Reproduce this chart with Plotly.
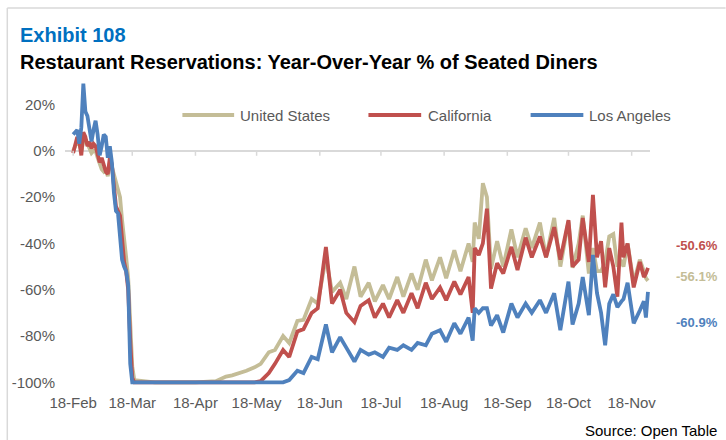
import plotly.graph_objects as go

# dates of the readings (2020)
dates = [
    "2020-02-18", "2020-02-19", "2020-02-20", "2020-02-21", "2020-02-22", "2020-02-23",
    "2020-02-24", "2020-02-25", "2020-02-26", "2020-02-27", "2020-02-28", "2020-02-29",
    "2020-03-01", "2020-03-02", "2020-03-03", "2020-03-04", "2020-03-05", "2020-03-06",
    "2020-03-07", "2020-03-08", "2020-03-09", "2020-03-10", "2020-03-11", "2020-03-12",
    "2020-03-13", "2020-03-14", "2020-03-15", "2020-03-16", "2020-03-17", "2020-03-18",
    "2020-03-19",
    "2020-03-29", "2020-04-08", "2020-04-18", "2020-04-28",
    "2020-05-03", "2020-05-06", "2020-05-10", "2020-05-13", "2020-05-17", "2020-05-20",
    "2020-05-24", "2020-05-27", "2020-05-31", "2020-06-03", "2020-06-07", "2020-06-10",
    "2020-06-14", "2020-06-17", "2020-06-21", "2020-06-24", "2020-06-28", "2020-07-01",
    "2020-07-05", "2020-07-08", "2020-07-12", "2020-07-15", "2020-07-19", "2020-07-22",
    "2020-07-26", "2020-07-29", "2020-08-02", "2020-08-05", "2020-08-09", "2020-08-12",
    "2020-08-16", "2020-08-19", "2020-08-23", "2020-08-26", "2020-08-30", "2020-09-01",
    "2020-09-02", "2020-09-04", "2020-09-06", "2020-09-08", "2020-09-10", "2020-09-13",
    "2020-09-16", "2020-09-20", "2020-09-23", "2020-09-27", "2020-09-30", "2020-10-04",
    "2020-10-07", "2020-10-11", "2020-10-14", "2020-10-18", "2020-10-20", "2020-10-23",
    "2020-10-25", "2020-10-28", "2020-10-30", "2020-11-01", "2020-11-03", "2020-11-05",
    "2020-11-07", "2020-11-09", "2020-11-11", "2020-11-13", "2020-11-14", "2020-11-16",
    "2020-11-19", "2020-11-22", "2020-11-24", "2020-11-25", "2020-11-26",
]

united_states = [
    0, 2, 4, 3, 0, 4, 5, 3, 1, -1, 0, 0, -3, -6, -8, -9, -8, -11, -5, -7,
    -10, -14, -17, -20, -30, -40, -46, -55, -72, -93, -99,
    -100, -100, -100, -99.5,
    -97.5, -97, -96, -95, -93.5, -92, -87, -86, -80, -83,
    -73.5, -73, -64, -66, -46, -61, -57, -64, -50, -63,
    -57, -65, -58, -64, -54.5, -63, -53, -60, -47, -56,
    -46, -55, -43, -52, -40, -48, -31, -38, -14, -20,
    -51, -39, -50, -34, -46, -33.5, -42, -31, -46, -29,
    -50, -30.5, -50.5, -40, -28, -53, -42, -52, -52, -48,
    -37, -36, -50, -48, -50, -40, -57, -47, -52, -55, -56.1,
]

california = [
    -1, 3, 6, 4, -2, 8, 6, 2, 4, 1, 3, 2, -2, -5, -3, -6, -9, -10, -3, -6,
    -15, -24, -26, -28, -38, -48, -52, -60, -82, -98, -100,
    -100, -100, -100, -100,
    -100, -100, -100, -100, -100, -99.5, -96, -92, -86, -89,
    -78, -77, -70, -68, -41.5, -66, -60, -70, -74, -67,
    -64.5, -72, -66, -72, -64.5, -70, -61.5, -68, -57, -64,
    -59, -64.5, -56.5, -62, -54.5, -70, -42, -45, -40, -25,
    -59.5, -48.5, -53, -41.5, -51.5, -37.5, -46, -37, -46, -33,
    -47, -30, -50, -47, -29, -48, -19, -46, -39, -59,
    -42, -50, -63, -31, -46, -40, -59, -48, -54.5, -53, -50.6,
]

los_angeles = [
    7, 8, 9, 3, 10, 29, 17, 15, 10, 4, 9, 13, 7, -2, 2, 7, 6, -3, 2, -5,
    -18, -26, -27, -38, -47, -50, -52, -58, -92, -100, -100,
    -100, -100, -100, -100,
    -100, -100, -100, -100, -100, -100, -100, -100, -100, -99,
    -95, -96, -89, -90, -75, -87, -80.5, -85, -91, -86,
    -88, -87, -89, -85, -86, -84, -86, -83, -84, -79,
    -77.5, -82.5, -74.5, -79, -72, -82, -68, -70, -68, -68,
    -75.5, -71, -78.5, -66, -72, -66, -70, -64.5, -70, -61.5,
    -77.5, -56.5, -75, -66, -54.5, -71, -45, -61.5, -70, -84,
    -66, -62, -67.5, -65, -64, -57, -74.5, -69, -65, -72, -60.9,
]

tick_dates = ["2020-02-18", "2020-03-18", "2020-04-18", "2020-05-18", "2020-06-18",
              "2020-07-18", "2020-08-18", "2020-09-18", "2020-10-18", "2020-11-18"]
tick_text = ["18-Feb", "18-Mar", "18-Apr", "18-May", "18-Jun",
             "18-Jul", "18-Aug", "18-Sep", "18-Oct", "18-Nov"]

series = [
    ("United States", united_states, "#C4BD97"),
    ("California", california, "#C0504D"),
    ("Los Angeles", los_angeles, "#4F81BD"),
]

W, H = 726, 440
L, R, T, B = 62, 650, 79, 387
FONT = "Liberation Sans, Arial, sans-serif"
NARROW = "Liberation Sans Narrow, Arial Narrow, Liberation Sans, sans-serif"
GREY = "#595959"


def px(x):
    return (x - L) / (R - L)


def py(y):
    return (B - y) / (B - T)


fig = go.Figure()
for name, vals, color in series:
    fig.add_trace(go.Scatter(x=dates, y=vals, name=name, mode="lines",
                             line=dict(color=color, width=3.8)))

shapes = []
annotations = []

# little tick marks hanging from the 0% line
for d in tick_dates:
    shapes.append(dict(type="line", xref="x", yref="y", ysizemode="pixel", yanchor=0,
                       x0=d, x1=d, y0=0, y1=-5, line=dict(color="#D9D9D9", width=1.5)))

# hand made legend (longer line samples than plotly's)
legend_pos = [(180, 232, 236), (367, 420, 425), (530, 583, 587)]
for (name, vals, color), (x0, x1, xt) in zip(series, legend_pos):
    shapes.append(dict(type="line", xref="paper", yref="paper", x0=px(x0), x1=px(x1),
                       y0=py(115), y1=py(115), line=dict(color=color, width=4)))
    annotations.append(dict(text=name, xref="paper", yref="paper", x=px(xt), y=py(115),
                            xanchor="left", yanchor="middle", showarrow=False,
                            font=dict(family=FONT, size=15, color=GREY)))

# end values on the right
end_y = {"California": 245, "United States": 276, "Los Angeles": 322}
for name, vals, color in series:
    annotations.append(dict(text=f"<b>{vals[-1]:.1f}%</b>", xref="paper", yref="paper",
                            x=px(674), y=py(end_y[name]), xanchor="left", yanchor="middle",
                            showarrow=False, font=dict(family=NARROW, size=13, color=color)))

annotations.append(dict(text="<b>Exhibit 108</b>", xref="paper", yref="paper", x=px(15), y=py(35),
                        xanchor="left", yanchor="middle", showarrow=False,
                        font=dict(family=NARROW, size=20, color="#0070C0")))
annotations.append(dict(text="<b>Restaurant Reservations: Year-Over-Year % of Seated Diners</b>",
                        xref="paper", yref="paper", x=px(15), y=py(62), xanchor="left",
                        yanchor="middle", showarrow=False,
                        font=dict(family=NARROW, size=20, color="#000000")))
annotations.append(dict(text="Source: Open Table", xref="paper", yref="paper", x=px(719), y=py(430),
                        xanchor="right", yanchor="middle", showarrow=False,
                        font=dict(family=FONT, size=15, color="#000000")))

# thin frame at top and left
shapes.append(dict(type="line", xref="paper", yref="paper", x0=px(4), x1=px(726), y0=py(8), y1=py(8),
                   line=dict(color="#D9D9D9", width=1.5)))
shapes.append(dict(type="line", xref="paper", yref="paper", x0=px(4), x1=px(4), y0=py(8), y1=py(440),
                   line=dict(color="#D9D9D9", width=1.5)))

fig.update_layout(
    width=W, height=H,
    margin=dict(l=L, r=W - R, t=T, b=H - B, pad=0),
    plot_bgcolor="white", paper_bgcolor="white",
    showlegend=False,
    shapes=shapes, annotations=annotations,
    xaxis=dict(type="date", range=["2020-02-14", "2020-11-27"], tickvals=tick_dates,
               ticktext=tick_text, showgrid=False, zeroline=False, showline=False,
               ticks="", ticklabelstandoff=5,
               tickfont=dict(family=FONT, size=15, color=GREY)),
    yaxis=dict(range=[-102, 31], tickvals=[20, 0, -20, -40, -60, -80, -100],
               ticktext=["20%", "0%", "-20%", "-40%", "-60%", "-80%", "-100%"],
               showgrid=False, zeroline=True, zerolinecolor="#D9D9D9", zerolinewidth=2,
               showline=False, ticks="", ticklabelstandoff=9,
               tickfont=dict(family=FONT, size=15, color=GREY)),
)

# the page's default body margin would push the chart 8px off
fig.write_html("out.html", config={"displayModeBar": False},
               post_script="document.body.style.margin = '0';")
